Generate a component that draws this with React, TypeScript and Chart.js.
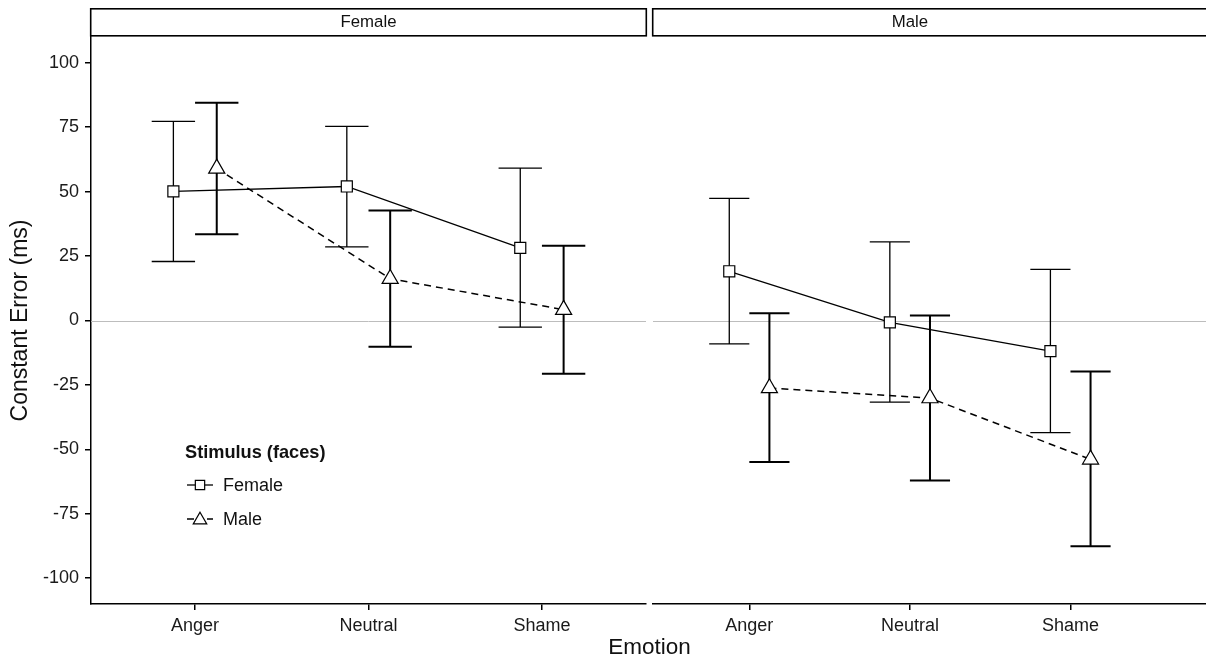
import React, { useEffect, useRef } from 'react';
import { Chart, registerables } from 'chart.js';

Chart.register(...registerables);

const FONT = "'Liberation Sans', Arial, Helvetica, sans-serif";

// ---------- data ----------
const emotions = ['Anger', 'Neutral', 'Shame'];
const panelLabels = ['Female', 'Male'];
const stimulusLabels = ['Female', 'Male'];
const legendTitle = 'Stimulus (faces)';
const yTitle = 'Constant Error (ms)';
const xTitle = 'Emotion';
const yTickValues = [-100, -75, -50, -25, 0, 25, 50, 75, 100];

// Panel "Female" (participants)
const femPanelFemStimMean = [50.1, 52.0, 28.2];
const femPanelFemStimLow = [22.9, 28.6, -2.6];
const femPanelFemStimHigh = [77.3, 75.3, 59.1];
const femPanelMaleStimMean = [59.0, 16.2, 4.2];
const femPanelMaleStimLow = [33.5, -10.2, -20.7];
const femPanelMaleStimHigh = [84.5, 42.7, 29.0];

// Panel "Male" (participants)
const malePanelFemStimMean = [19.1, -0.7, -11.9];
const malePanelFemStimLow = [-9.1, -31.7, -43.5];
const malePanelFemStimHigh = [47.4, 30.5, 19.8];
const malePanelMaleStimMean = [-26.2, -30.1, -53.9];
const malePanelMaleStimLow = [-54.9, -62.1, -87.6];
const malePanelMaleStimHigh = [2.8, 1.9, -19.8];

// ---------- styling ----------
const panelAxes = ['xF', 'xM'];
const DODGE = [-0.125, 0.125];
const CAP_HALF = 0.125;
const stimStyles = [
  { pointStyle: 'rect', radius: 7.8, lineWidth: 1.3, dash: [] as number[], legendDash: [] as number[], errWidth: 1.3, legendRadius: 6.6 },
  { pointStyle: 'triangle', radius: 9.3, lineWidth: 1.5, dash: [7, 5], legendDash: [7, 13], errWidth: 2, legendRadius: 7.8 },
];

const series = [
  { panel: 0, stim: 0, mean: femPanelFemStimMean, lo: femPanelFemStimLow, hi: femPanelFemStimHigh },
  { panel: 0, stim: 1, mean: femPanelMaleStimMean, lo: femPanelMaleStimLow, hi: femPanelMaleStimHigh },
  { panel: 1, stim: 0, mean: malePanelFemStimMean, lo: malePanelFemStimLow, hi: malePanelFemStimHigh },
  { panel: 1, stim: 1, mean: malePanelMaleStimMean, lo: malePanelMaleStimLow, hi: malePanelMaleStimHigh },
];

function drawMarker(ctx: CanvasRenderingContext2D, style: string, x: number, y: number, r: number) {
  ctx.save();
  ctx.beginPath();
  if (style === 'rect') {
    const s = r * Math.SQRT1_2;
    ctx.rect(x - s, y - s, 2 * s, 2 * s);
  } else {
    for (let k = 0; k < 3; k++) {
      const a = (k * 2 * Math.PI) / 3;
      const px = x + Math.sin(a) * r;
      const py = y - Math.cos(a) * r;
      if (k === 0) ctx.moveTo(px, py);
      else ctx.lineTo(px, py);
    }
    ctx.closePath();
  }
  ctx.setLineDash([]);
  ctx.fillStyle = '#ffffff';
  ctx.fill();
  ctx.lineWidth = 1.2;
  ctx.strokeStyle = '#000000';
  ctx.stroke();
  ctx.restore();
}

const facetPlugin = {
  id: 'facetDecor',
  beforeDatasetsDraw(chart: any) {
    const ctx: CanvasRenderingContext2D = chart.ctx;
    const y = chart.scales.y;
    // zero reference line per panel
    ctx.save();
    ctx.strokeStyle = '#bdbdbd';
    ctx.lineWidth = 1;
    const y0 = Math.round(y.getPixelForValue(0)) + 0.5;
    panelAxes.forEach((id) => {
      const s = chart.scales[id];
      ctx.beginPath();
      ctx.moveTo(s.left, y0);
      ctx.lineTo(s.right, y0);
      ctx.stroke();
    });
    ctx.restore();
    // error bars
    ctx.save();
    ctx.strokeStyle = '#000000';
    ctx.setLineDash([]);
    chart.data.datasets.forEach((ds: any) => {
      const xs = chart.scales[ds.xAxisID];
      ctx.lineWidth = ds.errWidth;
      ds.data.forEach((pt: any, i: number) => {
        const px = xs.getPixelForValue(pt.x);
        const pTop = y.getPixelForValue(ds.errHi[i]);
        const pBot = y.getPixelForValue(ds.errLo[i]);
        const cl = xs.getPixelForValue(pt.x - CAP_HALF);
        const cr = xs.getPixelForValue(pt.x + CAP_HALF);
        ctx.beginPath();
        ctx.moveTo(px, pTop);
        ctx.lineTo(px, pBot);
        ctx.moveTo(cl, pTop);
        ctx.lineTo(cr, pTop);
        ctx.moveTo(cl, pBot);
        ctx.lineTo(cr, pBot);
        ctx.stroke();
      });
    });
    ctx.restore();
  },
  afterDraw(chart: any) {
    const ctx: CanvasRenderingContext2D = chart.ctx;
    const area = chart.chartArea;
    ctx.save();
    // strips
    panelAxes.forEach((id, p) => {
      const s = chart.scales[id];
      ctx.fillStyle = '#ffffff';
      ctx.fillRect(s.left, 8.8, s.right - s.left + 4, 27);
      ctx.strokeStyle = '#000000';
      ctx.lineWidth = 1.6;
      ctx.strokeRect(s.left - 0.3, 8.8, s.right - s.left + (p === 1 ? 6 : 0.6), 27);
      ctx.fillStyle = '#111111';
      ctx.font = `16.8px ${FONT}`;
      ctx.textAlign = 'center';
      ctx.textBaseline = 'middle';
      ctx.fillText(panelLabels[p], s.getPixelForValue(1), 22.5);
    });
    // x axis title
    const xl = chart.scales.xF.left;
    const xr = chart.scales.xM.right;
    ctx.fillStyle = '#111111';
    ctx.font = `22.5px ${FONT}`;
    ctx.textAlign = 'center';
    ctx.textBaseline = 'middle';
    ctx.fillText(xTitle, (xl + xr) / 2 + 1, 648);
    // legend
    const lx = area.left + 94;
    const ty = area.top + 416;
    ctx.textAlign = 'left';
    ctx.font = `bold 18.2px ${FONT}`;
    ctx.fillText(legendTitle, lx, ty);
    stimulusLabels.forEach((lab, k) => {
      const st = stimStyles[k];
      const ry = ty + 32 + k * 34;
      ctx.save();
      ctx.strokeStyle = '#000000';
      ctx.lineWidth = st.lineWidth;
      ctx.setLineDash(st.legendDash);
      ctx.beginPath();
      ctx.moveTo(lx + 2, ry);
      ctx.lineTo(lx + 28, ry);
      ctx.stroke();
      ctx.restore();
      drawMarker(ctx, st.pointStyle, lx + 15, ry + (k === 1 ? 1 : 0), st.legendRadius);
      ctx.fillStyle = '#111111';
      ctx.font = `18px ${FONT}`;
      ctx.textAlign = 'left';
      ctx.textBaseline = 'middle';
      ctx.fillText(lab, lx + 38, ry + 1);
    });
    ctx.restore();
  },
};

const tickFont = { size: 18, family: FONT };
const axisGrid = { display: true, drawOnChartArea: false, drawTicks: true, tickLength: 6, color: '#000000', lineWidth: 1.5 };
const axisBorder = { display: true, color: '#000000', width: 1.5 };

function xAxis(min: number, max: number, weight: number, order: number) {
  return {
    type: 'linear',
    position: 'bottom',
    stack: 'panels',
    stackWeight: weight,
    weight: order,
    min,
    max,
    afterBuildTicks: (s: any) => {
      s.ticks = emotions.map((_, i) => ({ value: i }));
    },
    afterFit: (s: any) => {
      s.height = 56;
      s.paddingLeft = 0;
      s.paddingRight = 0;
    },
    grid: axisGrid,
    border: axisBorder,
    ticks: {
      color: '#1a1a1a',
      font: tickFont,
      padding: 5,
      maxRotation: 0,
      autoSkip: false,
      callback: (v: any) => emotions[Math.round(Number(v))] ?? '',
    },
  };
}

export default function App() {
  const ref = useRef<HTMLCanvasElement | null>(null);

  useEffect(() => {
    if (!ref.current) return;
    const datasets = series.map((s) => {
      const st = stimStyles[s.stim];
      return {
        type: 'line',
        label: `${panelLabels[s.panel]} / ${stimulusLabels[s.stim]}`,
        xAxisID: panelAxes[s.panel],
        yAxisID: 'y',
        data: s.mean.map((v, i) => ({ x: i + DODGE[s.stim], y: v })),
        errLo: s.lo,
        errHi: s.hi,
        errWidth: st.errWidth,
        borderColor: '#000000',
        borderWidth: st.lineWidth,
        borderDash: st.dash,
        tension: 0,
        fill: false,
        pointStyle: st.pointStyle,
        pointRadius: st.radius,
        pointBackgroundColor: '#ffffff',
        pointBorderColor: '#000000',
        pointBorderWidth: 1.2,
        clip: false,
      };
    });

    const chart = new Chart(ref.current, {
      type: 'line',
      data: { datasets: datasets as any },
      options: {
        animation: false,
        responsive: false,
        events: [],
        layout: { autoPadding: false, padding: { top: 37, left: 0, right: 0, bottom: 0 } },
        plugins: { legend: { display: false }, tooltip: { enabled: false } },
        scales: {
          y: {
            position: 'left',
            min: -110,
            max: 110,
            afterBuildTicks: (s: any) => {
              s.ticks = yTickValues.map((v) => ({ value: v }));
            },
            afterFit: (s: any) => {
              s.width = 91;
              s.paddingTop = 0;
              s.paddingBottom = 0;
            },
            grid: axisGrid,
            border: axisBorder,
            ticks: { color: '#1a1a1a', font: tickFont, padding: 6, callback: (v: any) => String(v) },
            title: {
              display: true,
              text: yTitle,
              color: '#111111',
              font: { size: 23, family: FONT },
              padding: { top: 7, bottom: 0 },
            },
          },
          xF: xAxis(-0.6, 2.6, 555, 1),
          xGap: { type: 'linear', position: 'bottom', stack: 'panels', stackWeight: 7, weight: 2, display: false, min: 0, max: 1 },
          xM: xAxis(-0.6, 2.844, 553, 3),
        } as any,
      },
      plugins: [facetPlugin as any],
    });
    return () => chart.destroy();
  }, []);

  return (
    <div style={{ position: 'fixed', left: 0, top: 0, width: 1206, height: 660, background: '#ffffff' }}>
      <canvas ref={ref} width={1206} height={660} style={{ display: 'block', width: 1206, height: 660 }} />
    </div>
  );
}
